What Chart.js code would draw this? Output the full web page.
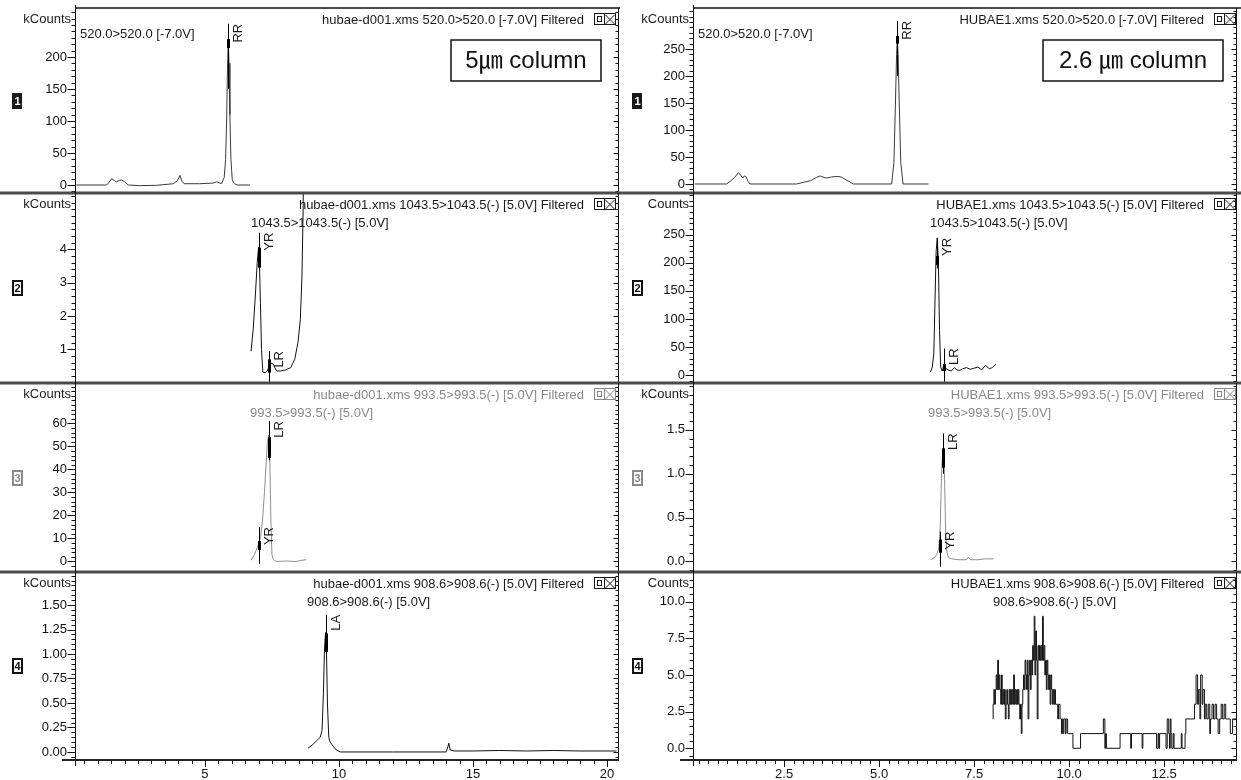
<!DOCTYPE html>
<html>
<head>
<meta charset="utf-8">
<script src="https://cdn.jsdelivr.net/npm/chart.js"></script>
<style>
  html, body { margin: 0; padding: 0; background: #fff; }
  #wrap { position: relative; width: 1241px; height: 780px; overflow: hidden; background: #fff; }
  #wrap canvas { position: absolute; }
</style>
</head>
<body>
<div id="wrap"></div>
<script>
const FONT = '"Liberation Sans", Arial, sans-serif';
const CJK = '"Liberation Sans", "Noto Sans CJK KR", sans-serif';

// x axis tick labels (retention time, min)
const xLabelsLeft = ['5', '10', '15', '20'];
const xLabelsRight = ['2.5', '5.0', '7.5', '10.0', '12.5'];

// y axis tick labels per panel
const yLabels1L = ['0', '50', '100', '150', '200'];
const yLabels2L = ['1', '2', '3', '4'];
const yLabels3L = ['0', '10', '20', '30', '40', '50', '60'];
const yLabels4L = ['0.00', '0.25', '0.50', '0.75', '1.00', '1.25', '1.50'];
const yLabels1R = ['0', '50', '100', '150', '200', '250'];
const yLabels2R = ['0', '50', '100', '150', '200', '250'];
const yLabels3R = ['0.0', '0.5', '1.0', '1.5'];
const yLabels4R = ['0.0', '2.5', '5.0', '7.5', '10.0'];

// 5um column traces
const rt1L = [0.2, 1.33, 1.42, 1.52, 1.62, 1.7, 1.8, 1.89, 2.0, 2.14, 2.57, 3.2, 3.82, 3.98, 4.07, 4.14, 4.22, 4.8, 5.3, 5.44, 5.62, 5.72, 5.77, 5.81, 5.84, 5.87, 5.9, 5.93, 5.97, 6.02, 6.1, 6.2, 6.68];
const kc1L = [0, 0, 4, 10, 7, 5, 7, 8, 5, 0, -1, -0.5, 2, 7, 15, 6, 2, 2, 3, 5, 2, 12, 40, 100, 180, 225, 190, 110, 40, 8, 2, 0, 0];

const rt2L = [6.72, 6.8, 6.88, 6.95, 7.0, 7.03, 7.07, 7.11, 7.16, 7.25, 7.32, 7.38, 7.45, 7.55, 7.67, 7.82, 8.0, 8.2, 8.35, 8.47, 8.56, 8.62, 8.66, 8.7];
const kc2L = [0.94, 1.6, 2.6, 3.6, 4.05, 3.7, 2.4, 1.0, 0.32, 0.3, 0.35, 0.45, 0.6, 0.55, 0.35, 0.35, 0.38, 0.45, 0.7, 1.2, 1.9, 3.2, 5.0, 8.0];

const rt3L = [6.72, 6.85, 6.95, 7.01, 7.08, 7.15, 7.22, 7.28, 7.33, 7.38, 7.42, 7.46, 7.5, 7.55, 7.6, 7.7, 8.0, 8.4, 8.6, 8.78];
const kc3L = [0.5, 3, 6, 8, 11, 18, 30, 42, 52, 55, 45, 18, 3, 1, 0.3, 0, 0.2, 0, 0.5, 0.8];

const rt4L = [8.85, 9.0, 9.15, 9.3, 9.37, 9.42, 9.46, 9.5, 9.53, 9.57, 9.62, 9.67, 9.78, 9.9, 10.05, 11.0, 12.0, 13.0, 14.0, 14.05, 14.1, 14.15, 14.3, 15.0, 16.0, 17.0, 18.0, 19.0, 20.35];
const kc4L = [0.04, 0.07, 0.11, 0.15, 0.22, 0.6, 1.05, 1.22, 1.1, 0.5, 0.15, 0.1, 0.06, 0.02, 0.0, 0.0, 0.0, 0.0, 0.0, 0.04, 0.09, 0.02, 0.01, 0.01, 0.015, 0.01, 0.015, 0.01, 0.01];

// 2.6um column traces
const rt1R = [0.15, 0.99, 1.1, 1.2, 1.3, 1.36, 1.41, 1.46, 1.5, 1.55, 1.6, 2.83, 3.0, 3.2, 3.35, 3.45, 3.55, 3.62, 3.75, 3.89, 4.0, 4.15, 4.32, 5.33, 5.39, 5.43, 5.46, 5.48, 5.5, 5.53, 5.57, 5.63, 6.3];
const kc1R = [0, 0, 6, 12, 21, 16, 11, 15, 13, 5, 0, 0, 3, 6, 12, 15, 12, 11, 13, 14, 13, 7, 0, 0, 40, 150, 240, 270, 240, 150, 40, 0, 0];

const rt2R = [6.35, 6.4, 6.44, 6.47, 6.5, 6.53, 6.56, 6.59, 6.62, 6.66, 6.71, 6.76, 6.82, 6.9, 6.98, 7.05, 7.12, 7.2, 7.3, 7.4, 7.5, 7.6, 7.7, 7.8, 7.9, 7.98, 8.07];
const c2R = [6, 15, 40, 130, 220, 244, 200, 80, 15, 8, 20, 12, 10, 8, 14, 10, 9, 12, 14, 11, 13, 15, 10, 18, 12, 14, 20];

const rt3R = [6.35, 6.45, 6.52, 6.57, 6.61, 6.64, 6.67, 6.69, 6.72, 6.75, 6.78, 6.82, 6.9, 7.1, 7.3, 7.35, 7.4, 7.6, 7.8, 8.01];
const kc3R = [0.02, 0.04, 0.08, 0.15, 0.4, 0.95, 1.25, 1.3, 1.0, 0.35, 0.12, 0.05, 0.03, 0.02, 0.02, 0.05, 0.02, 0.02, 0.03, 0.03];

const rt4R = [8.00, 8.02, 8.04, 8.06, 8.08, 8.10, 8.12, 8.14, 8.16, 8.18, 8.20, 8.22, 8.24, 8.26, 8.28, 8.30, 8.32, 8.34, 8.36, 8.38,
  8.40, 8.42, 8.44, 8.46, 8.48, 8.50, 8.52, 8.54, 8.56, 8.58, 8.60, 8.62, 8.64, 8.66, 8.68, 8.70, 8.72, 8.74, 8.76, 8.78,
  8.80, 8.82, 8.84, 8.86, 8.88, 8.90, 8.92, 8.94, 8.96, 8.98, 9.00, 9.02, 9.04, 9.06, 9.08, 9.10, 9.12, 9.14, 9.16, 9.18,
  9.20, 9.22, 9.24, 9.26, 9.28, 9.30, 9.32, 9.34, 9.36, 9.38, 9.40, 9.42, 9.44, 9.46, 9.48, 9.50, 9.52, 9.54, 9.56, 9.58,
  9.60, 9.62, 9.64, 9.66, 9.70, 9.72, 9.76, 9.80, 9.82, 9.84, 9.86, 9.90, 9.92, 9.96, 9.98, 10.10, 10.30, 10.32, 10.90, 10.94,
  10.96, 10.98, 11.34, 11.62, 11.64, 11.92, 11.94, 12.30, 12.34, 12.36, 12.38, 12.55, 12.58, 12.62, 12.64, 12.66, 12.68, 12.70, 12.74, 12.76,
  12.95, 12.97, 13.05, 13.07, 13.30, 13.34, 13.38, 13.40, 13.44, 13.46, 13.50, 13.52, 13.56, 13.58, 13.62, 13.66, 13.70, 13.72, 13.76, 13.80,
  13.84, 13.88, 13.92, 13.96, 14.00, 14.04, 14.08, 14.12, 14.16, 14.24, 14.30, 14.34, 14.39];
const c4R = [2, 3, 4, 3, 4, 5, 4, 6, 4, 5, 4, 3, 5, 3, 4, 3, 4, 2, 3, 4,
  3, 2, 4, 3, 4, 3, 4, 3, 5, 3, 4, 3, 4, 3, 4, 3, 2, 3, 1, 3,
  4, 5, 4, 6, 5, 4, 6, 2, 5, 6, 4, 6, 5, 7, 6, 9, 5, 8, 6, 2,
  7, 6, 7, 6, 7, 6, 9, 6, 7, 5, 6, 4, 6, 5, 4, 5, 3, 5, 4, 3,
  4, 3, 4, 3, 3, 2, 3, 2, 1, 2, 1, 2, 1, 2, 1, 1, 0, 1, 1, 2,
  0, 1, 0, 1, 0, 1, 0, 1, 0, 1, 0, 1, 0, 2, 1, 0, 2, 1, 0, 1,
  0, 1, 0, 1, 2, 3, 5, 3, 4, 2, 5, 3, 4, 2, 3, 2, 3, 1, 2, 3,
  2, 3, 2, 1, 2, 3, 2, 3, 2, 2, 1, 2, 2];

// peak labels: [name, time, line top, line bottom, mark top, mark bottom]
const peaks1L = [['RR', 5.86, 252, 150, 228, 214]];
const peaks2L = [['YR', 7.0, 4.5, 3.4, 4.05, 3.45], ['LR', 7.38, 0.95, -0.05, 0.7, 0.3]];
const peaks3L = [['LR', 7.38, 61, 44, 54, 45], ['YR', 7.01, 15, -1, 9, 5]];
const peaks4L = [['LA', 9.52, 1.4, 1.0, 1.21, 1.02]];
const peaks1R = [['RR', 5.48, 302, 200, 274, 260]];
const peaks2R = [['YR', 6.53, 244, 190, 212, 196], ['LR', 6.71, 48, -14, 20, 8]];
const peaks3R = [['LR', 6.69, 1.46, 1.0, 1.29, 1.07], ['YR', 6.59, 0.34, -0.06, 0.25, 0.1]];

const cols = [
  { left: 0, width: 620, axisW: 76, padRight: 2, xMin: 0.19, xMax: 20.41, xLabels: xLabelsLeft, xMinor: 0.5 },
  { left: 620, width: 621, axisW: 74, padRight: 5, xMin: 0.13, xMax: 14.39, xLabels: xLabelsRight, xMinor: 0.25 }
];
const rows = [{ top: 8, bottom: 193 }, { top: 193, bottom: 383 }, { top: 383, bottom: 572 }, { top: 572, bottom: 760 }];

const panels = [
  { col: 0, row: 0, t: rt1L, v: kc1L, yMin: -12.5, yMax: 276.6, yLabels: yLabels1L, yMinor: 10, yTitle: 'kCounts',
    header: 'hubae-d001.xms 520.0>520.0 [-7.0V] Filtered', sub: '520.0>520.0 [-7.0V]', subX: 80, peaks: peaks1L,
    colBox: { x: 451, y: 40, w: 150, h: 41, text: '5㎛ column' } },
  { col: 0, row: 1, t: rt2L, v: kc2L, yMin: -0.01, yMax: 5.69, yLabels: yLabels2L, yMinor: 0.2, yTitle: 'kCounts',
    header: 'hubae-d001.xms 1043.5>1043.5(-) [5.0V] Filtered', sub: '1043.5>1043.5(-) [5.0V]', subX: 251, peaks: peaks2L },
  { col: 0, row: 2, t: rt3L, v: kc3L, yMin: -4.57, yMax: 77.6, yLabels: yLabels3L, yMinor: 2, yTitle: 'kCounts',
    header: 'hubae-d001.xms 993.5>993.5(-) [5.0V] Filtered', sub: '993.5>993.5(-) [5.0V]', subX: 250, peaks: peaks3L },
  { col: 0, row: 3, t: rt4L, v: kc4L, yMin: -0.082, yMax: 1.837, yLabels: yLabels4L, yMinor: 0.05, yTitle: 'kCounts',
    header: 'hubae-d001.xms 908.6>908.6(-) [5.0V] Filtered', sub: '908.6>908.6(-) [5.0V]', subX: 307, peaks: peaks4L },
  { col: 1, row: 0, t: rt1R, v: kc1R, yMin: -16.7, yMax: 326, yLabels: yLabels1R, yMinor: 10, yTitle: 'kCounts',
    header: 'HUBAE1.xms 520.0>520.0 [-7.0V] Filtered', sub: '520.0>520.0 [-7.0V]', subX: 698, peaks: peaks1R,
    colBox: { x: 1043, y: 40, w: 180, h: 41, text: '2.6 ㎛ column' } },
  { col: 1, row: 1, t: rt2R, v: c2R, yMin: -13.3, yMax: 323.6, yLabels: yLabels2R, yMinor: 10, yTitle: 'Counts',
    header: 'HUBAE1.xms 1043.5>1043.5(-) [5.0V] Filtered', sub: '1043.5>1043.5(-) [5.0V]', subX: 930, peaks: peaks2R },
  { col: 1, row: 2, t: rt3R, v: kc3R, yMin: -0.12, yMax: 2.035, yLabels: yLabels3R, yMinor: 0.1, yTitle: 'kCounts',
    header: 'HUBAE1.xms 993.5>993.5(-) [5.0V] Filtered', sub: '993.5>993.5(-) [5.0V]', subX: 928, peaks: peaks3R },
  { col: 1, row: 3, t: rt4R, v: c4R, yMin: -0.8, yMax: 12.02, yLabels: yLabels4R, yMinor: 0.5, yTitle: 'Counts',
    header: 'HUBAE1.xms 908.6>908.6(-) [5.0V] Filtered', sub: '908.6>908.6(-) [5.0V]', subX: 993, peaks: [], stepped: true }
];

function toPoints(times, values) {
  return times.map((t, i) => ({ x: t, y: values[i] }));
}

// frame, ticks, captions and peak labels drawn on top of each panel
function deco(p, col, canvasTop) {
  return {
    id: 'deco',
    afterDraw(chart) {
      const ctx = chart.ctx, a = chart.chartArea, xs = chart.scales.x, ys = chart.scales.y;
      const ink = p.row === 2 ? '#8a8a8a' : '#1a1a1a';
      const ax = a.left - 0.5;
      const seg = (x1, y1, x2, y2) => { ctx.beginPath(); ctx.moveTo(x1, y1); ctx.lineTo(x2, y2); ctx.stroke(); };
      ctx.save();

      // top line / panel separator
      ctx.fillStyle = '#4a4a4a';
      if (p.row === 0) ctx.fillRect(a.left - 1, a.top - 1, chart.width - a.left + 1, 2);
      else ctx.fillRect(0, a.top - 1.5, chart.width, 3);

      ctx.strokeStyle = '#111';
      ctx.lineWidth = 1;
      seg(a.right + 0.5, a.top, a.right + 0.5, a.bottom);
      seg(ax, p.row === 0 ? a.top - 3 : 0, ax, a.bottom + (p.row === 3 ? 6 : 0));

      // y ticks, major and minor, left and right
      const majors = p.yLabels.map(Number);
      const n0 = Math.ceil(p.yMin / p.yMinor - 1e-6), n1 = Math.floor(p.yMax / p.yMinor + 1e-6);
      for (let n = n0; n <= n1; n++) {
        const v = n * p.yMinor;
        const py = Math.round(ys.getPixelForValue(v)) + 0.5;
        if (py < a.top + 2 || py > a.bottom - 1) continue;
        const major = majors.some(m => Math.abs(m - v) < p.yMinor / 2);
        seg(ax - (major ? 8 : 4), py, ax, py);
        seg(a.right + 0.5 - (major ? 5 : 3), py, a.right + 0.5, py);
      }

      // x axis on the bottom row
      if (p.row === 3) {
        ctx.fillStyle = '#222';
        ctx.fillRect(a.left - 14, a.bottom - 1, a.right - a.left + 15, 2);
        const xm = col.xLabels.map(Number);
        const m0 = Math.ceil(col.xMin / col.xMinor), m1 = Math.floor(col.xMax / col.xMinor);
        for (let m = m0; m <= m1; m++) {
          const v = m * col.xMinor;
          const px = Math.round(xs.getPixelForValue(v)) + 0.5;
          const major = xm.some(t => Math.abs(t - v) < col.xMinor / 2);
          seg(px, a.bottom, px, a.bottom + (major ? 7 : 4));
        }
      }

      // panel number box
      const cy = Math.round((a.top + a.bottom) / 2);
      ctx.font = `bold 11px ${FONT}`;
      ctx.textAlign = 'center';
      ctx.textBaseline = 'middle';
      if (p.row === 0) {
        ctx.fillStyle = '#1a1a1a';
        ctx.fillRect(12, cy - 8, 10, 16);
        ctx.fillStyle = '#fff';
      } else {
        ctx.strokeStyle = p.row === 2 ? '#8a8a8a' : '#111';
        ctx.lineWidth = 2;
        ctx.strokeRect(13, cy - 7, 9, 14);
        ctx.fillStyle = ctx.strokeStyle;
      }
      ctx.fillText(String(p.row + 1), 17.5, cy + 1);

      // header, window icons, trace caption
      ctx.font = `13px ${FONT}`;
      ctx.fillStyle = ink;
      ctx.textAlign = 'right';
      ctx.fillText(p.header, 584, a.top + 12);
      ctx.strokeStyle = ink;
      ctx.lineWidth = 1;
      const iy = a.top + 5.5;
      ctx.strokeRect(594.5, iy, 10, 11);
      ctx.strokeRect(597.5, iy + 3, 4, 5);
      ctx.strokeRect(604.5, iy, 11, 11);
      seg(605, iy + 1, 615, iy + 11);
      seg(615, iy + 1, 605, iy + 11);
      ctx.textAlign = 'left';
      ctx.fillText(p.sub, p.subX - col.left, a.top + (p.row === 0 ? 26 : 30));

      // y axis title
      ctx.fillStyle = '#1a1a1a';
      ctx.textAlign = 'right';
      ctx.fillText(p.yTitle, a.left - 5, a.top + 11);

      // column label box
      if (p.colBox) {
        const b = p.colBox;
        ctx.lineWidth = 1.5;
        ctx.strokeStyle = '#111';
        ctx.strokeRect(b.x - col.left, b.y - canvasTop, b.w, b.h);
        ctx.font = `24px ${CJK}`;
        ctx.textAlign = 'center';
        ctx.fillStyle = '#111';
        ctx.fillText(b.text, b.x - col.left + b.w / 2, b.y - canvasTop + b.h / 2 + 1);
      }

      // peak labels
      ctx.beginPath();
      ctx.rect(a.left, a.top, a.right - a.left, a.bottom - a.top);
      ctx.clip();
      for (const [name, rt, top, bottom, mTop, mBot] of p.peaks) {
        const px = Math.round(xs.getPixelForValue(rt)) + 0.5;
        const yTop = ys.getPixelForValue(top);
        ctx.strokeStyle = '#000';
        ctx.lineWidth = 1;
        seg(px, yTop, px, ys.getPixelForValue(bottom));
        ctx.lineWidth = 3;
        seg(px, ys.getPixelForValue(mTop), px, ys.getPixelForValue(mBot));
        ctx.save();
        ctx.translate(px + 3, yTop);
        ctx.rotate(-Math.PI / 2);
        ctx.textAlign = 'right';
        ctx.textBaseline = 'top';
        ctx.font = `13px ${FONT}`;
        ctx.fillStyle = '#1a1a1a';
        ctx.fillText(name, 0, 0);
        ctx.restore();
      }
      ctx.restore();
    }
  };
}

const wrap = document.getElementById('wrap');
panels.forEach(p => {
  const col = cols[p.col], row = rows[p.row];
  const padTop = p.row === 0 ? 8 : 4;
  const cTop = row.top - padTop;
  const cH = (p.row === 3 ? 780 : row.bottom) - cTop;
  const canvas = document.createElement('canvas');
  canvas.width = col.width;
  canvas.height = cH;
  canvas.style.left = col.left + 'px';
  canvas.style.top = cTop + 'px';
  canvas.style.width = col.width + 'px';
  canvas.style.height = cH + 'px';
  wrap.appendChild(canvas);

  const lineColor = p.row === 2 ? '#8e8e8e' : (p.row === 0 ? '#3a3a3a' : '#111');
  new Chart(canvas, {
    type: 'line',
    data: {
      datasets: [{
        data: toPoints(p.t, p.v),
        borderColor: lineColor,
        borderWidth: 1,
        pointRadius: 0,
        fill: false,
        tension: 0,
        stepped: p.stepped ? 'after' : false
      }]
    },
    options: {
      responsive: false,
      animation: false,
      events: [],
      layout: { padding: { top: padTop, right: col.padRight, left: 0, bottom: 0 } },
      plugins: { legend: { display: false }, tooltip: { enabled: false } },
      scales: {
        x: {
          type: 'linear',
          min: col.xMin,
          max: col.xMax,
          display: p.row === 3,
          afterFit: s => {
            s.height = p.row === 3 ? 20 : 0;
            s.paddingLeft = 0; s.paddingRight = 0; s.paddingTop = 0; s.paddingBottom = 0;
          },
          afterBuildTicks: s => { s.ticks = col.xLabels.map(l => ({ value: parseFloat(l) })); },
          grid: { display: false, drawTicks: false },
          border: { display: false },
          ticks: {
            autoSkip: false, maxRotation: 0, padding: 7, color: '#111',
            font: { family: FONT, size: 13 },
            callback: (v, i) => col.xLabels[i]
          }
        },
        y: {
          type: 'linear',
          min: p.yMin,
          max: p.yMax,
          afterFit: s => {
            s.width = col.axisW;
            s.paddingLeft = 0; s.paddingRight = 0; s.paddingTop = 0; s.paddingBottom = 0;
          },
          afterBuildTicks: s => { s.ticks = p.yLabels.map(l => ({ value: parseFloat(l) })); },
          grid: { display: false, drawTicks: false },
          border: { display: false },
          ticks: {
            autoSkip: false, padding: 9, color: '#111',
            font: { family: FONT, size: 13 },
            callback: (v, i) => p.yLabels[i]
          }
        }
      }
    },
    plugins: [deco(p, col, cTop)]
  });
});
</script>
</body>
</html>
